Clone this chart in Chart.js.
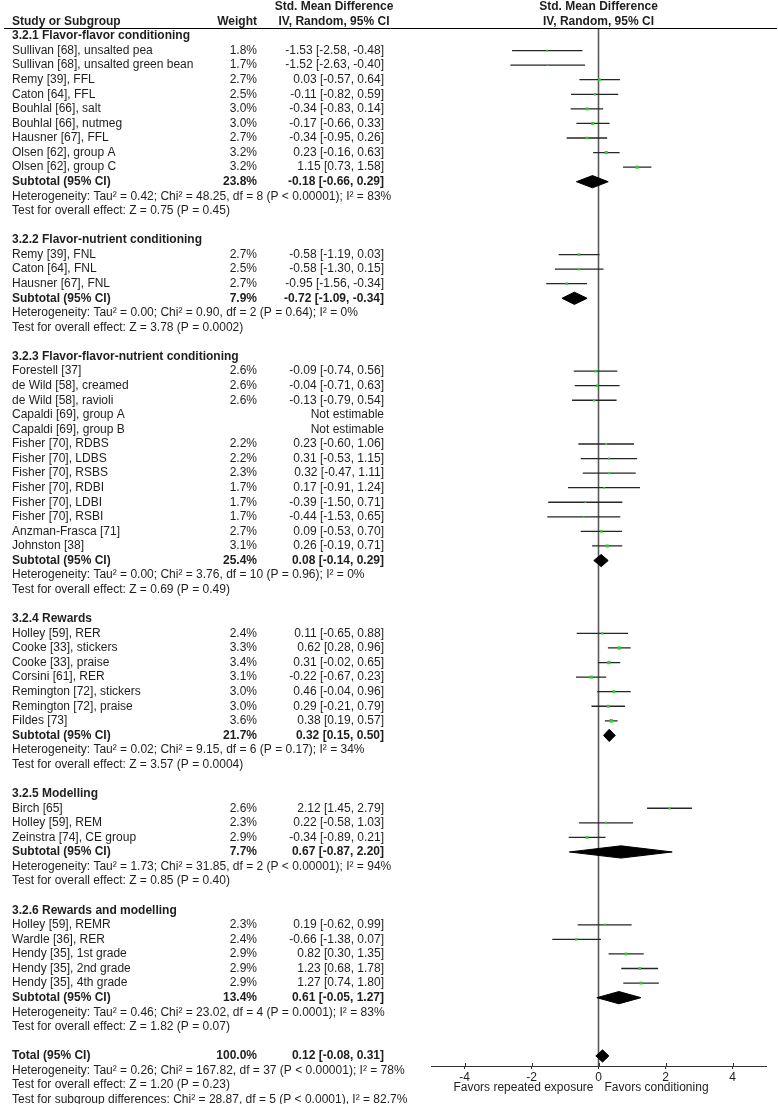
<!DOCTYPE html>
<html lang="en">
<head>
    <meta charset="UTF-8">
    <title>Forest plot - Std. Mean Difference</title>
    <script src="https://cdn.jsdelivr.net/npm/chart.js"></script>
    <style>
        html, body { margin: 0; padding: 0; background: #fff; }
        #wrap { position: relative; width: 778px; height: 1104px; }
    </style>
</head>
<body>
<div id="wrap"><canvas id="forest"></canvas></div>
<script>
    // subgroups
    const groupTitles = [
        '3.2.1 Flavor-flavor conditioning',
        '3.2.2 Flavor-nutrient conditioning',
        '3.2.3 Flavor-flavor-nutrient conditioning',
        '3.2.4 Rewards',
        '3.2.5 Modelling',
        '3.2.6 Rewards and modelling'
    ];
    const groupSizes = [9, 3, 13, 7, 3, 5];

    // studies (null = not estimable)
    const studyNames = [
        'Sullivan [68], unsalted pea', 'Sullivan [68], unsalted green bean', 'Remy [39], FFL', 'Caton [64], FFL',
        'Bouhlal [66], salt', 'Bouhlal [66], nutmeg', 'Hausner [67], FFL', 'Olsen [62], group A', 'Olsen [62], group C',
        'Remy [39], FNL', 'Caton [64], FNL', 'Hausner [67], FNL',
        'Forestell [37]', 'de Wild [58], creamed', 'de Wild [58], ravioli', 'Capaldi [69], group A', 'Capaldi [69], group B',
        'Fisher [70], RDBS', 'Fisher [70], LDBS', 'Fisher [70], RSBS', 'Fisher [70], RDBI', 'Fisher [70], LDBI',
        'Fisher [70], RSBI', 'Anzman-Frasca [71]', 'Johnston [38]',
        'Holley [59], RER', 'Cooke [33], stickers', 'Cooke [33], praise', 'Corsini [61], RER',
        'Remington [72], stickers', 'Remington [72], praise', 'Fildes [73]',
        'Birch [65]', 'Holley [59], REM', 'Zeinstra [74], CE group',
        'Holley [59], REMR', 'Wardle [36], RER', 'Hendy [35], 1st grade', 'Hendy [35], 2nd grade', 'Hendy [35], 4th grade'
    ];
    const studyWeights = [
        1.8, 1.7, 2.7, 2.5, 3.0, 3.0, 2.7, 3.2, 3.2,
        2.7, 2.5, 2.7,
        2.6, 2.6, 2.6, null, null, 2.2, 2.2, 2.3, 1.7, 1.7, 1.7, 2.7, 3.1,
        2.4, 3.3, 3.4, 3.1, 3.0, 3.0, 3.6,
        2.6, 2.3, 2.9,
        2.3, 2.4, 2.9, 2.9, 2.9
    ];
    const studySmd = [
        -1.53, -1.52, 0.03, -0.11, -0.34, -0.17, -0.34, 0.23, 1.15,
        -0.58, -0.58, -0.95,
        -0.09, -0.04, -0.13, null, null, 0.23, 0.31, 0.32, 0.17, -0.39, -0.44, 0.09, 0.26,
        0.11, 0.62, 0.31, -0.22, 0.46, 0.29, 0.38,
        2.12, 0.22, -0.34,
        0.19, -0.66, 0.82, 1.23, 1.27
    ];
    const studyLow = [
        -2.58, -2.63, -0.57, -0.82, -0.83, -0.66, -0.95, -0.16, 0.73,
        -1.19, -1.30, -1.56,
        -0.74, -0.71, -0.79, null, null, -0.60, -0.53, -0.47, -0.91, -1.50, -1.53, -0.53, -0.19,
        -0.65, 0.28, -0.02, -0.67, -0.04, -0.21, 0.19,
        1.45, -0.58, -0.89,
        -0.62, -1.38, 0.30, 0.68, 0.74
    ];
    const studyHigh = [
        -0.48, -0.40, 0.64, 0.59, 0.14, 0.33, 0.26, 0.63, 1.58,
        0.03, 0.15, -0.34,
        0.56, 0.63, 0.54, null, null, 1.06, 1.15, 1.11, 1.24, 0.71, 0.65, 0.70, 0.71,
        0.88, 0.96, 0.65, 0.23, 0.96, 0.79, 0.57,
        2.79, 1.03, 0.21,
        0.99, 0.07, 1.35, 1.78, 1.80
    ];

    // subtotals
    const subtotalWeights = [23.8, 7.9, 25.4, 21.7, 7.7, 13.4];
    const subtotalSmd = [-0.18, -0.72, 0.08, 0.32, 0.67, 0.61];
    const subtotalLow = [-0.66, -1.09, -0.14, 0.15, -0.87, -0.05];
    const subtotalHigh = [0.29, -0.34, 0.29, 0.50, 2.20, 1.27];
    const heterogeneity = [
        'Heterogeneity: Tau² = 0.42; Chi² = 48.25, df = 8 (P < 0.00001); I² = 83%',
        'Heterogeneity: Tau² = 0.00; Chi² = 0.90, df = 2 (P = 0.64); I² = 0%',
        'Heterogeneity: Tau² = 0.00; Chi² = 3.76, df = 10 (P = 0.96); I² = 0%',
        'Heterogeneity: Tau² = 0.02; Chi² = 9.15, df = 6 (P = 0.17); I² = 34%',
        'Heterogeneity: Tau² = 1.73; Chi² = 31.85, df = 2 (P < 0.00001); I² = 94%',
        'Heterogeneity: Tau² = 0.46; Chi² = 23.02, df = 4 (P = 0.0001); I² = 83%'
    ];
    const overallEffect = [
        'Test for overall effect: Z = 0.75 (P = 0.45)',
        'Test for overall effect: Z = 3.78 (P = 0.0002)',
        'Test for overall effect: Z = 0.69 (P = 0.49)',
        'Test for overall effect: Z = 3.57 (P = 0.0004)',
        'Test for overall effect: Z = 0.85 (P = 0.40)',
        'Test for overall effect: Z = 1.82 (P = 0.07)'
    ];

    // total
    const totalWeight = 100.0;
    const totalSmd = 0.12;
    const totalLow = -0.08;
    const totalHigh = 0.31;
    const totalNotes = [
        'Heterogeneity: Tau² = 0.26; Chi² = 167.82, df = 37 (P < 0.00001); I² = 78%',
        'Test for overall effect: Z = 1.20 (P = 0.23)',
        'Test for subgroup differences: Chi² = 28.87, df = 5 (P < 0.0001), I² = 82.7%'
    ];

    const xTicks = [-4, -2, 0, 2, 4];

    // ---- lay out rows (row index = line of text) ----
    const rows = [];
    let r = 0, s = 0;
    const fmt = v => v.toFixed(2);
    const ciText = (m, lo, hi) => fmt(m) + ' [' + fmt(lo) + ', ' + fmt(hi) + ']';

    const studyPts = [], whisker = [], diamonds = [];
    groupTitles.forEach((title, g) => {
        rows.push({ row: r++, name: title, bold: true });
        for (let i = 0; i < groupSizes[g]; i++, s++) {
            const est = studySmd[s] !== null;
            rows.push({
                row: r,
                name: studyNames[s],
                weight: est ? studyWeights[s].toFixed(1) + '%' : '',
                ci: est ? ciText(studySmd[s], studyLow[s], studyHigh[s]) : 'Not estimable'
            });
            if (est) {
                studyPts.push({ x: studySmd[s], y: r, w: studyWeights[s] });
                whisker.push({ x: studyLow[s], y: r }, { x: studyHigh[s], y: r }, { x: null, y: null });
            }
            r++;
        }
        rows.push({
            row: r, name: 'Subtotal (95% CI)', bold: true,
            weight: subtotalWeights[g].toFixed(1) + '%',
            ci: ciText(subtotalSmd[g], subtotalLow[g], subtotalHigh[g])
        });
        diamonds.push({ row: r, m: subtotalSmd[g], lo: subtotalLow[g], hi: subtotalHigh[g] });
        r++;
        rows.push({ row: r++, name: heterogeneity[g] });
        rows.push({ row: r++, name: overallEffect[g] });
        r++; // blank line
    });
    rows.push({
        row: r, name: 'Total (95% CI)', bold: true,
        weight: totalWeight.toFixed(1) + '%',
        ci: ciText(totalSmd, totalLow, totalHigh)
    });
    diamonds.push({ row: r, m: totalSmd, lo: totalLow, hi: totalHigh });
    r++;
    totalNotes.forEach(t => rows.push({ row: r++, name: t }));

    const yMin = -0.549, yMax = 70.69;
    const dh = 0.42; // diamond half height in rows

    const datasets = [
        {
            type: 'line', order: 3,
            data: [{ x: 0, y: yMin }, { x: 0, y: yMax }],
            borderColor: '#5a5a5a', borderWidth: 1.6, pointRadius: 0
        },
        {
            order: 2,
            data: whisker, showLine: true, spanGaps: false,
            borderColor: '#262626', borderWidth: 1.3, pointRadius: 0
        },
        {
            order: 1,
            data: studyPts, pointStyle: 'rect',
            pointRadius: ctx => ctx.raw ? ctx.raw.w * 0.7 : 0,
            backgroundColor: '#33cc33', borderWidth: 0
        }
    ];
    diamonds.forEach(d => {
        datasets.push({
            order: 0,
            data: [
                { x: d.lo, y: d.row }, { x: d.m, y: d.row - dh },
                { x: d.hi, y: d.row }, { x: d.m, y: d.row + dh }, { x: d.lo, y: d.row }
            ],
            showLine: true, fill: 'shape', tension: 0,
            backgroundColor: '#000', borderColor: '#000', borderWidth: 1, pointRadius: 0
        });
    });

    const FONT = '"Liberation Sans", Arial, sans-serif';
    const TEXT = '#1e1e1e';

    // table text, headers, rules
    const tablePlugin = {
        id: 'table',
        afterDraw(chart) {
            const c = chart.ctx, y = chart.scales.y, x = chart.scales.x, area = chart.chartArea;
            const nameX = 12, weightX = 257, ciX = 384, ciMid = 334, plotMid = x.getPixelForValue(0);
            c.save();
            c.fillStyle = TEXT;
            c.textBaseline = 'middle';

            c.font = 'bold 12px ' + FONT;
            c.textAlign = 'center';
            c.fillText('Std. Mean Difference', ciMid, y.getPixelForValue(-2));
            c.fillText('IV, Random, 95% CI', ciMid, y.getPixelForValue(-1));
            c.fillText('Std. Mean Difference', plotMid, y.getPixelForValue(-2));
            c.fillText('IV, Random, 95% CI', plotMid, y.getPixelForValue(-1));
            c.textAlign = 'left';
            c.fillText('Study or Subgroup', nameX, y.getPixelForValue(-1));
            c.textAlign = 'right';
            c.fillText('Weight', weightX, y.getPixelForValue(-1));

            rows.forEach(row => {
                const py = y.getPixelForValue(row.row);
                c.font = (row.bold ? 'bold ' : '') + '12px ' + FONT;
                c.textAlign = 'left';
                c.fillText(row.name, nameX, py);
                c.textAlign = 'right';
                if (row.weight) c.fillText(row.weight, weightX, py);
                if (row.ci) c.fillText(row.ci, ciX, py);
            });

            // rule under the header
            c.strokeStyle = '#000';
            c.lineWidth = 1;
            c.beginPath();
            c.moveTo(4, area.top + 0.5);
            c.lineTo(777, area.top + 0.5);
            c.stroke();

            // axis tick marks cross the axis line
            c.strokeStyle = '#333';
            c.beginPath();
            xTicks.forEach(v => {
                const px = Math.round(x.getPixelForValue(v)) + 0.5;
                c.moveTo(px, area.bottom - 3);
                c.lineTo(px, area.bottom);
            });
            c.stroke();

            // axis captions
            c.font = '12px ' + FONT;
            const fy = area.bottom + 22;
            c.textAlign = 'right';
            c.fillText('Favors repeated exposure', plotMid - 5, fy);
            c.textAlign = 'left';
            c.fillText('Favors conditioning', plotMid + 6, fy);
            c.restore();
        }
    };

    new Chart(document.getElementById('forest'), {
        type: 'scatter',
        data: { datasets },
        options: {
            responsive: true,
            maintainAspectRatio: false,
            animation: false,
            events: [],
            layout: { padding: { left: 431, right: 12, top: 28, bottom: 0 } },
            plugins: { legend: { display: false }, tooltip: { enabled: false } },
            scales: {
                x: {
                    type: 'linear', min: -5, max: 5,
                    afterBuildTicks: axis => { axis.ticks = xTicks.map(v => ({ value: v })); },
                    afterFit: axis => { axis.height = 38; },
                    border: { display: true, color: '#333', width: 1 },
                    grid: { drawOnChartArea: false, drawTicks: true, tickLength: 3, color: '#333' },
                    ticks: { color: TEXT, font: { family: FONT, size: 12 }, padding: 1, maxRotation: 0 }
                },
                y: {
                    type: 'linear', reverse: true, min: yMin, max: yMax, display: false
                }
            }
        },
        plugins: [tablePlugin]
    });
</script>
</body>
</html>
